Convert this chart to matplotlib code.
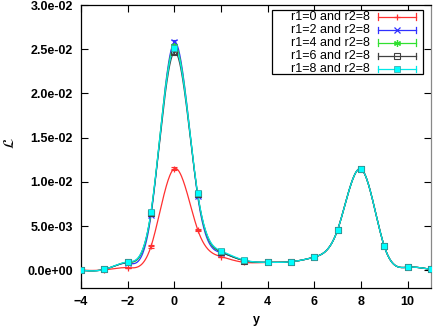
import numpy as np
import matplotlib
matplotlib.use("Agg")
import matplotlib.pyplot as plt

plt.rcParams['font.family'] = ['Liberation Sans', 'DejaVu Sans']

x = [-4, -3, -2, -1, 0, 1, 2, 3, 4, 5, 6, 7, 8, 9, 10, 11]
r1_0 = [0.0, 0.00005, 0.0003, 0.0027, 0.0115, 0.0046, 0.00155, 0.0009, 0.0009, 0.00097, 0.0015, 0.0046, 0.01146, 0.0027, 0.00035, 0.0001]
r1_2 = [0.0, 0.0001, 0.0008, 0.0062, 0.0258, 0.0084, 0.0020, 0.0011, 0.0009, 0.00097, 0.0015, 0.0046, 0.01146, 0.0027, 0.00035, 0.0001]
r1_4 = [0.0, 0.0001, 0.0009, 0.0065, 0.0254, 0.0086, 0.0021, 0.0011, 0.0009, 0.00097, 0.0015, 0.0046, 0.01146, 0.0027, 0.00035, 0.0001]
r1_6 = [0.0, 0.0001, 0.0009, 0.0065, 0.0247, 0.0086, 0.0021, 0.0011, 0.0009, 0.00097, 0.0015, 0.0046, 0.01146, 0.0027, 0.00035, 0.0001]
r1_8 = [0.0, 0.0001, 0.00095, 0.0066, 0.0251, 0.0087, 0.0022, 0.00115, 0.0009, 0.00097, 0.0015, 0.0046, 0.01146, 0.0027, 0.00035, 0.0001]
err_0 = [0.0, 0.0, 0.0, 0.00015, 0.0002, 0.0001, 0.0, 0.0, 0.0, 0.0, 0.0, 0.0, 0.0, 0.0, 0.0, 0.0]
err_n = [0.0, 0.0, 0.0, 0.0001, 0.0002, 0.0001, 0.0, 0.0, 0.0, 0.0, 0.0, 0.0, 0.0, 0.0, 0.0, 0.0]
labels = ["r1=0 and r2=8", "r1=2 and r2=8", "r1=4 and r2=8", "r1=6 and r2=8", "r1=8 and r2=8"]
xticks = [-4, -2, 0, 2, 4, 6, 8, 10]
yticks = [0.0, 0.005, 0.010, 0.015, 0.020, 0.025, 0.030]


def natural_spline(xs, ys, n=600):
    xs = np.asarray(xs, float)
    ys = np.asarray(ys, float)
    N = len(xs)
    h = np.diff(xs)
    A = np.zeros((N, N))
    b = np.zeros(N)
    A[0, 0] = 1
    A[-1, -1] = 1
    for i in range(1, N - 1):
        A[i, i - 1] = h[i - 1]
        A[i, i] = 2 * (h[i - 1] + h[i])
        A[i, i + 1] = h[i]
        b[i] = 6 * ((ys[i + 1] - ys[i]) / h[i] - (ys[i] - ys[i - 1]) / h[i - 1])
    M = np.linalg.solve(A, b)
    xx = np.linspace(xs[0], xs[-1], n)
    idx = np.clip(np.searchsorted(xs, xx) - 1, 0, N - 2)
    x0, x1 = xs[idx], xs[idx + 1]
    hh = x1 - x0
    t0 = x1 - xx
    t1 = xx - x0
    yy = (M[idx] * t0**3 / (6 * hh) + M[idx + 1] * t1**3 / (6 * hh)
          + (ys[idx] / hh - M[idx] * hh / 6) * t0
          + (ys[idx + 1] / hh - M[idx + 1] * hh / 6) * t1)
    return xx, yy


series = [r1_0, r1_2, r1_4, r1_6, r1_8]
errs = [err_0, err_n, err_n, err_n, err_n]
colors = ['#ff3030', '#3030ff', '#30e030', '#404040', '#00e8e8']
markers = [dict(marker='+', ms=5, mew=0.9, mfc='none'),
           dict(marker='x', ms=4, mew=0.9, mfc='none'),
           dict(marker=(6, 2, 0), ms=5, mew=0.9, mfc='none'),
           dict(marker='s', ms=5, mew=0.8, mfc='none'),
           dict(marker='s', ms=4.5, mew=0.5, mfc='#00ffff')]

fig = plt.figure(figsize=(4.34, 3.27), dpi=100)
ax = fig.add_axes([81 / 434, 39 / 327, 350 / 434, 283 / 327])

for ys, er, c, mk in zip(series, errs, colors, markers):
    xx, yy = natural_spline(x, ys)
    ax.plot(xx, yy, color=c, lw=0.9, zorder=2)
    mec = c if mk['mfc'] == 'none' else '#30a0a0'
    ax.errorbar(x, ys, yerr=er, fmt='none', ecolor=c, elinewidth=0.8,
                capsize=2, capthick=0.8, zorder=3)
    ax.plot(x, ys, ls='none', color=c, mec=mec, zorder=4, **mk)

ax.set_xlim(-4, 11)
ax.set_ylim(-0.002, 0.030)
ax.set_xticks(xticks)
ax.set_yticks(yticks)
ax.set_yticklabels(['%.1e' % v for v in yticks])
ax.tick_params(direction='in', length=5, width=0.8, top=True, right=True,
               labelsize=9, pad=6)
for lab in ax.get_xticklabels() + ax.get_yticklabels():
    lab.set_fontweight('bold')
ax.set_xlabel('y', fontsize=9, fontweight='bold', labelpad=4)
fig.text(10 / 434, 1 - 143 / 327, r'$\mathcal{L}$', rotation=90,
         ha='center', va='center', fontsize=11)
for s in ax.spines.values():
    s.set_linewidth(0.9)
ax.spines['right'].set_color('#888888')

# gnuplot-style key
bx0, bx1 = (272 - 81) / 350, (423 - 81) / 350
by0, by1 = (288 - 74) / 283, (288 - 10) / 283
ax.add_patch(plt.Rectangle((bx0, by0), bx1 - bx0, by1 - by0, transform=ax.transAxes,
                           fill=True, facecolor='white', edgecolor='black', lw=0.9, zorder=10))
rows_px = [16.7, 30, 42.7, 56, 69]
lx0, lx1 = (378 - 81) / 350, (416 - 81) / 350
for lab, c, mk, ypx in zip(labels, colors, markers, rows_px):
    yy = (288 - ypx) / 283
    ax.text((370 - 81) / 350, yy, lab, transform=ax.transAxes, ha='right', va='center',
            fontsize=9, zorder=11)
    ax.plot([lx0, lx1], [yy, yy], transform=ax.transAxes, color=c, lw=0.9, zorder=11,
            clip_on=False)
    for xe in (lx0, lx1):
        ax.plot([xe, xe], [yy - 0.012, yy + 0.012], transform=ax.transAxes, color=c,
                lw=0.9, zorder=11, clip_on=False)
    mec = c if mk['mfc'] == 'none' else '#30a0a0'
    ax.plot([(lx0 + lx1) / 2], [yy], transform=ax.transAxes, ls='none', color=c,
            mec=mec, zorder=12, clip_on=False, **mk)

fig.savefig('out.png', dpi=100)
